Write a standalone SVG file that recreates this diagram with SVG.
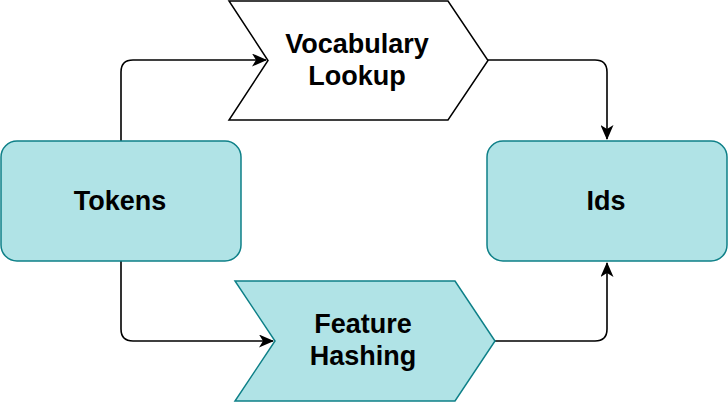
<svg xmlns="http://www.w3.org/2000/svg" width="728" height="402" viewBox="0 0 728 402">
<style>
.box{fill:#b0e3e6;stroke:#0e8088;stroke-width:1.5}
.wbox{fill:#ffffff;stroke:#000000;stroke-width:1.5}
.lbl{font-family:"Liberation Sans",Arial,Helvetica,sans-serif;font-weight:bold;font-size:27px;fill:#000000;text-anchor:middle}
.edge{fill:none;stroke:#000000;stroke-width:1.6}
</style>
<defs>
<marker id="arr" viewBox="0 0 15 13" refX="14" refY="6.5" markerWidth="15" markerHeight="13" markerUnits="userSpaceOnUse" orient="auto">
<path d="M0,0 L15,6.5 L0,13 L4,6.5 Z" fill="#000000"/>
</marker>
</defs>
<g id="connectors">
<path class="edge" d="M121,141 V72 Q121,60 133,60 H266" marker-end="url(#arr)"/>
<path class="edge" d="M121,261 V329 Q121,341 133,341 H273" marker-end="url(#arr)"/>
<path class="edge" d="M488,60 H595 Q607,60 607,72 V139" marker-end="url(#arr)"/>
<path class="edge" d="M495,341 H595 Q607,341 607,329 V263" marker-end="url(#arr)"/>
</g>
<g id="tokens">
<rect class="box" x="1" y="141" width="240" height="120" rx="16" ry="16"/>
<text class="lbl" x="120" y="210">Tokens</text>
</g>
<g id="ids">
<rect class="box" x="487" y="141" width="240" height="120" rx="16" ry="16"/>
<text class="lbl" x="606" y="210">Ids</text>
</g>
<g id="vocabulary-lookup">
<polygon class="wbox" points="229,1 448,1 488,60.5 448,120 229,120 268,60.5"/>
<text class="lbl" x="357" y="53">Vocabulary</text>
<text class="lbl" x="357" y="85">Lookup</text>
</g>
<g id="feature-hashing">
<polygon class="box" points="235,281 455,281 495,341 455,401 235,401 275,341"/>
<text class="lbl" x="363" y="333">Feature</text>
<text class="lbl" x="363" y="365">Hashing</text>
</g>
</svg>
